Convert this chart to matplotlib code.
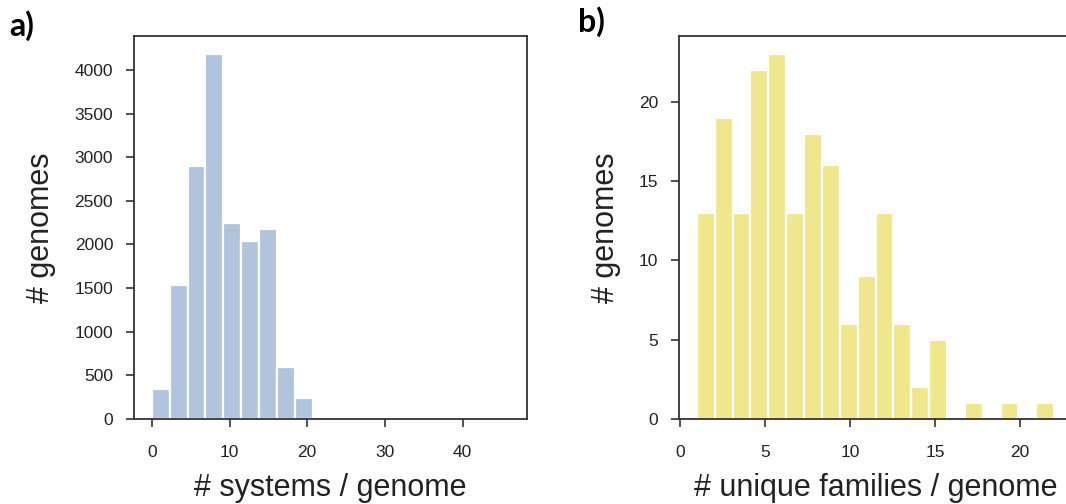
import matplotlib
matplotlib.use("Agg")
import matplotlib.pyplot as plt
import numpy as np

plt.rcParams['font.family'] = ['Liberation Sans', 'DejaVu Sans']

# panel a: systems per genome (20 bins over 0..46)
sys_min, sys_max = 0, 46
sys_counts = [340, 1530, 2900, 4180, 2250, 2040, 2180, 600, 240, 20,
              0, 0, 0, 0, 0, 0, 0, 0, 0, 1]

# panel b: unique families per genome (20 bins over 1..22)
fam_min, fam_max = 1, 22
fam_counts = [13, 19, 13, 22, 23, 13, 18, 16, 6, 9,
              13, 6, 2, 5, 0, 1, 0, 1, 0, 1]

a_xticks = [0, 10, 20, 30, 40]
a_yticks = [0, 500, 1000, 1500, 2000, 2500, 3000, 3500, 4000]
b_xticks = [0, 5, 10, 15, 20]
b_yticks = [0, 5, 10, 15, 20]

spine_col = '#333333'
text_col = '#222222'

fig = plt.figure(figsize=(10.66, 5.04), dpi=100)
ax1 = fig.add_axes([134/1066, 85/504, 393/1066, 383/504])
ax2 = fig.add_axes([679/1066, 85/504, 393/1066, 383/504])


def draw(ax, lo, hi, counts, color, xticks, yticks, xlabel):
    edges = np.linspace(lo, hi, len(counts) + 1)
    w = edges[1] - edges[0]
    ax.bar(edges[:-1], counts, width=w, align='edge', color=color,
           edgecolor='white', linewidth=1.6)
    ax.set_xticks(xticks)
    ax.set_yticks(yticks)
    ax.tick_params(direction='out', length=6, width=1.2, color=spine_col,
                   labelsize=12.5, labelcolor=text_col, pad=9)
    ax.tick_params(axis='x', pad=13)
    for s in ax.spines.values():
        s.set_color(spine_col)
        s.set_linewidth(1.3)
    ax.set_xlabel(xlabel, fontsize=22, color=text_col, labelpad=9)
    ax.set_ylabel('# genomes', fontsize=22, color=text_col, labelpad=13)


draw(ax1, sys_min, sys_max, sys_counts, '#B0C4DE', a_xticks, a_yticks,
     '# systems / genome')
draw(ax2, fam_min, fam_max, fam_counts, '#F0E68C', b_xticks, b_yticks,
     '# unique families / genome')

fig.text(9/1066, 1 - 26/504, 'a)', fontsize=23, fontweight='bold',
         family='Lato', va='center', ha='left')
fig.text(578/1066, 1 - 22/504, 'b)', fontsize=23, fontweight='bold',
         family='Lato', va='center', ha='left')

fig.savefig('out.png', dpi=100)
